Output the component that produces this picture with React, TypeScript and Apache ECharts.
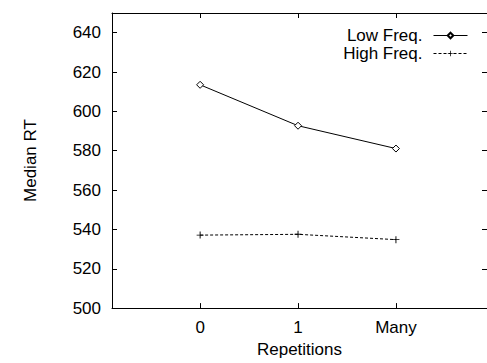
import React, { useEffect, useRef } from "react";
import * as echarts from "echarts";

const categories = ["0", "1", "Many"];
const lowFreq = [613.5, 592.7, 581.1];
const highFreq = [537.1, 537.5, 534.8];
const yTickValues = [500, 520, 540, 560, 580, 600, 620, 640];
const xTickValues = [0, 1, 2];

const FONT = "Liberation Sans, Arial, Helvetica, sans-serif";
const FS = 17;
const PLUS = "path://M0,2.6H6V3.4H0Z M2.6,0H3.4V6H2.6Z";

export default function App() {
  const ref = useRef<HTMLDivElement>(null);
  useEffect(() => {
    if (!ref.current) return;
    const chart = echarts.init(ref.current, undefined, { renderer: "svg" });
    const xBase = {
      type: "value",
      min: -0.9,
      max: 2.93,
      splitLine: { show: false },
      axisLine: { show: true, onZero: false, lineStyle: { color: "#000", width: 1 } },
    };
    const yBase = {
      type: "value",
      min: 500,
      max: 650,
      splitLine: { show: false },
      axisLine: { show: true, onZero: false, lineStyle: { color: "#000", width: 1 } },
    };
    chart.setOption({
      animation: false,
      backgroundColor: "#fff",
      textStyle: { fontFamily: FONT },
      grid: { left: 112, top: 13, width: 377.3, height: 303, containLabel: false },
      legend: {
        orient: "vertical",
        align: "right",
        right: 14,
        top: 22,
        itemWidth: 34,
        itemHeight: 7,
        itemGap: 1,
        lineStyle: { width: 1 },
        textStyle: { fontFamily: FONT, fontSize: FS, color: "#000", padding: [0, 6, 0, 0] },
        data: ["Low Freq.", "High Freq."],
      },
      xAxis: [
        {
          ...xBase,
          position: "bottom",
          name: "Repetitions",
          nameLocation: "middle",
          nameGap: 39,
          nameTextStyle: { fontFamily: FONT, fontSize: FS, color: "#000", verticalAlign: "middle" },
          axisTick: { show: true, inside: true, length: 5, customValues: xTickValues, lineStyle: { color: "#000" } },
          axisLabel: {
            show: true,
            customValues: xTickValues,
            margin: 11,
            fontFamily: FONT,
            fontSize: FS,
            color: "#000",
            formatter: (v: number) => categories[Math.round(v)] ?? "",
          },
        },
        {
          ...xBase,
          position: "top",
          axisTick: { show: true, inside: true, length: 5, customValues: xTickValues, lineStyle: { color: "#000" } },
          axisLabel: { show: false },
        },
      ],
      yAxis: [
        {
          ...yBase,
          position: "left",
          name: "Median RT",
          nameLocation: "middle",
          nameGap: 82,
          nameRotate: 90,
          nameTextStyle: { fontFamily: FONT, fontSize: FS, color: "#000", verticalAlign: "middle" },
          axisTick: { show: true, inside: true, length: 5, customValues: yTickValues, lineStyle: { color: "#000" } },
          axisLabel: {
            show: true,
            customValues: yTickValues,
            margin: 11,
            fontFamily: FONT,
            fontSize: FS,
            color: "#000",
          },
        },
        {
          ...yBase,
          position: "right",
          axisTick: { show: true, inside: true, length: 5, customValues: yTickValues, lineStyle: { color: "#000" } },
          axisLabel: { show: false },
        },
      ],
      series: [
        {
          name: "Low Freq.",
          type: "line",
          xAxisIndex: 0,
          yAxisIndex: 0,
          data: lowFreq.map((v, i) => [i, v]),
          symbol: "diamond",
          symbolSize: 7,
          showAllSymbol: true,
          lineStyle: { color: "#000", width: 1 },
          itemStyle: { color: "#fff", borderColor: "#000", borderWidth: 1 },
        },
        {
          name: "High Freq.",
          type: "line",
          xAxisIndex: 0,
          yAxisIndex: 0,
          data: highFreq.map((v, i) => [i, v]),
          symbol: PLUS,
          symbolSize: 7,
          showAllSymbol: true,
          lineStyle: { color: "#000", width: 1, type: [3, 2] },
          itemStyle: { color: "#000" },
        },
      ],
    });
    return () => chart.dispose();
  }, []);
  return (
    <div
      ref={ref}
      style={{ position: "fixed", left: 0, top: 0, width: 487, height: 363, background: "#fff" }}
    />
  );
}
